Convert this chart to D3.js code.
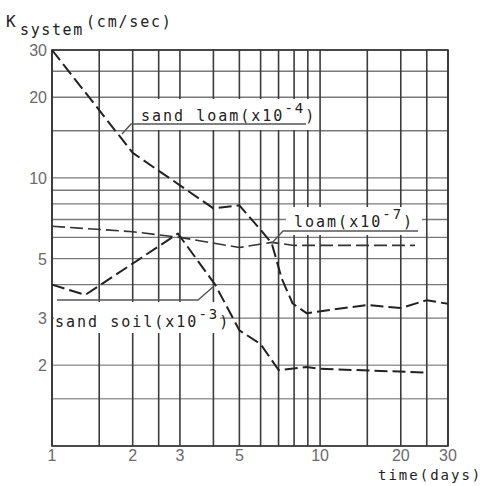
<!DOCTYPE html>
<html>
<head>
<meta charset="utf-8">
<script src="https://cdn.jsdelivr.net/npm/d3@7"></script>
<style>
  html, body { margin: 0; padding: 0; background: #fff; }
  svg { display: block; }
</style>
</head>
<body>
<div id="chart"></div>
<script>
// Data (log-log, time in days)
const sandLoamDays = [1, 2, 4, 5, 6, 6.6, 7.2, 7.9, 8.9, 15, 20, 25, 30];
const sandLoamK    = [30, 12.4, 7.7, 7.9, 6.4, 5.7, 4.2, 3.4, 3.13, 3.36, 3.27, 3.5, 3.39];

const loamDays = [1, 2, 3, 5, 6.6, 8, 10, 22.6];
const loamK    = [6.6, 6.3, 6.0, 5.5, 5.75, 5.6, 5.6, 5.6];

const sandSoilDays = [1, 1.33, 2.95, 4.06, 5, 6, 7, 8.9, 10, 25];
const sandSoilK    = [4.0, 3.66, 6.2, 4.0, 2.7, 2.4, 1.92, 1.97, 1.94, 1.88];

const xTicks = [1, 2, 3, 5, 10, 20, 30];
const yTicks = [2, 3, 5, 10, 20, 30];
const xGrid = [1, 1.5, 2, 2.5, 3, 4, 5, 6, 7, 8, 9, 10, 15, 20, 25, 30];
const yGrid = [1, 1.5, 2, 3, 4, 5, 6, 7, 8, 9, 10, 15, 20, 25, 30];

const width = 486;
const height = 486;

const svg = d3.select("#chart").append("svg")
  .attr("width", width)
  .attr("height", height);

svg.append("rect")
  .attr("width", width)
  .attr("height", height)
  .attr("fill", "#fff");

const x = d3.scaleLog().domain([1, 30]).range([52, 448]);
const y = d3.scaleLog().domain([1, 30]).range([446, 50]);

// Grid
const grid = svg.append("g").attr("class", "grid");
grid.selectAll(".hgrid")
  .data(yGrid)
  .enter()
  .append("line")
  .attr("x1", x(1))
  .attr("x2", x(30))
  .attr("y1", d => y(d))
  .attr("y2", d => y(d))
  .attr("stroke", d => d < 3 ? "#9a9a9a" : "#7a7a7a")
  .attr("stroke-width", 1.4);

grid.selectAll(".vgrid")
  .data(xGrid)
  .enter()
  .append("line")
  .attr("x1", d => x(d))
  .attr("x2", d => x(d))
  .attr("y1", y(1))
  .attr("y2", y(30))
  .attr("stroke", "#3c3c3c")
  .attr("stroke-width", 1.6);

// Frame
svg.append("rect")
  .attr("x", x(1))
  .attr("y", y(30))
  .attr("width", x(30) - x(1))
  .attr("height", y(1) - y(30))
  .attr("fill", "none")
  .attr("stroke", "#333")
  .attr("stroke-width", 1.6);

// White boxes behind the labels (they cut the grid in the original)
function labelBox(x0, y0, w, h) {
  svg.append("rect")
    .attr("x", x0).attr("y", y0)
    .attr("width", w).attr("height", h)
    .attr("fill", "#fff");
}
labelBox(134, 99, 178, 31);
labelBox(286, 207, 136, 28);
labelBox(54, 302, 166, 31);

// Series
const line = d3.line()
  .x(d => x(d[0]))
  .y(d => y(d[1]));

function drawSeries(days, vals, width, color) {
  svg.append("path")
    .datum(d3.zip(days, vals))
    .attr("d", line)
    .attr("fill", "none")
    .attr("stroke", color)
    .attr("stroke-width", width)
    .attr("stroke-dasharray", "13,5")
    .attr("stroke-linejoin", "round");
}
drawSeries(sandLoamDays, sandLoamK, 2, "#222");
drawSeries(loamDays, loamK, 1.6, "#333");
drawSeries(sandSoilDays, sandSoilK, 2, "#222");

// Ticks
svg.selectAll(".xtick")
  .data(xTicks)
  .enter()
  .append("text")
  .attr("x", d => x(d))
  .attr("y", 461)
  .attr("text-anchor", "middle")
  .style("font-family", "Liberation Sans, sans-serif")
  .style("font-size", "16px")
  .style("fill", "#6a6a6a")
  .text(d => d);

svg.selectAll(".ytick")
  .data(yTicks)
  .enter()
  .append("text")
  .attr("x", 47)
  .attr("y", d => y(d) + 6)
  .attr("text-anchor", "end")
  .style("font-family", "Liberation Sans, sans-serif")
  .style("font-size", "16px")
  .style("fill", "#6a6a6a")
  .text(d => d);

// Typewriter text
const mono = "DejaVu Sans Mono, monospace";
function typeText(tx, ty, size, spacing) {
  return svg.append("text")
    .attr("x", tx)
    .attr("y", ty)
    .style("font-family", mono)
    .style("font-size", size + "px")
    .style("letter-spacing", spacing + "px")
    .style("fill", "#222");
}

// Axis titles
typeText(6, 27, 16, 1).text("K");
typeText(20, 35, 15, 1.6).text("system");
typeText(86, 27, 15, 1.8).text("(cm/sec)");
typeText(378, 480, 14, 2).text("time(days)");

// Series labels with exponent
function seriesLabel(tx, ty, base, exp) {
  const t = typeText(tx, ty, 15, 2);
  t.append("tspan").text(base);
  t.append("tspan").attr("dy", -8).style("font-size", "14px").text(exp);
  t.append("tspan").attr("dy", 8).text(")");
}
seriesLabel(141, 121, "sand loam(x10", "-4");
seriesLabel(294, 227, "loam(x10", "-7");
seriesLabel(55, 327, "sand soil(x10", "-3");

// Leader lines
function leader(points) {
  svg.append("path")
    .attr("d", d3.line()(points))
    .attr("fill", "none")
    .attr("stroke", "#555")
    .attr("stroke-width", 1.4);
}
leader([[122, 134], [131, 124], [306, 124]]);
leader([[272, 243], [283, 231], [418, 231]]);
leader([[57, 300], [198, 300], [213, 287]]);
</script>
</body>
</html>
